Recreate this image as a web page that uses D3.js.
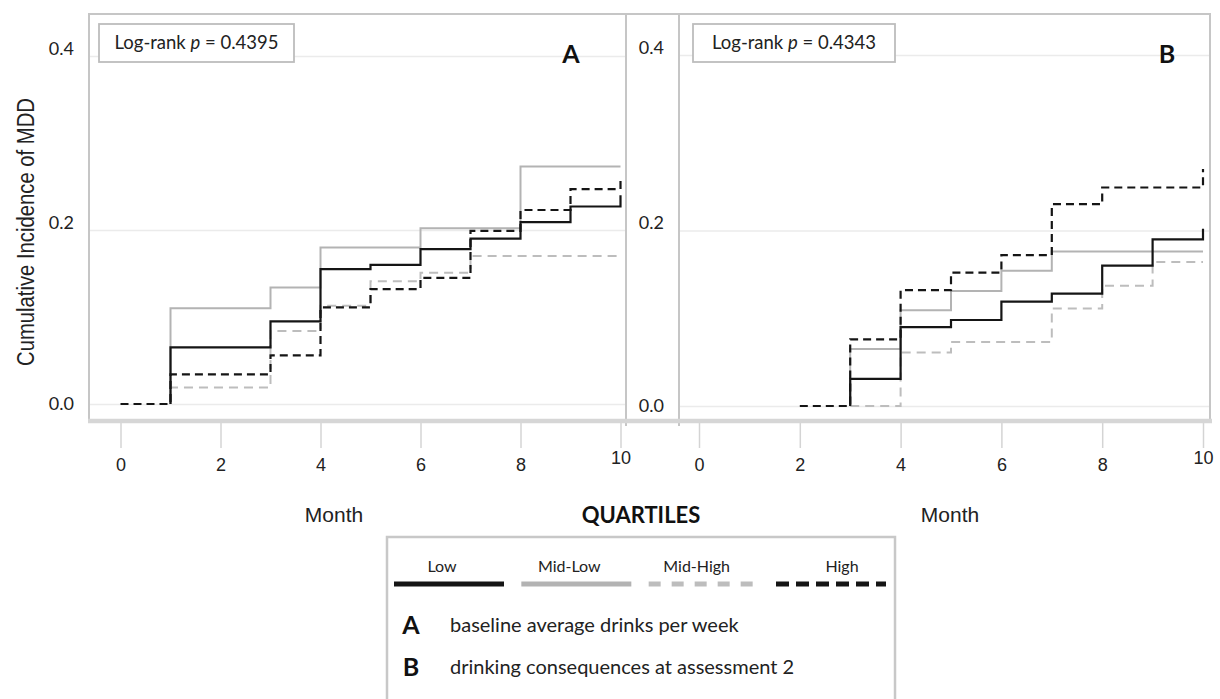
<!DOCTYPE html>
<html><head><meta charset="utf-8">
<script src="https://cdn.jsdelivr.net/npm/d3@7"></script>
<style>body{margin:0;background:#fff} svg{display:block}</style>
</head><body>
<svg id="chart" width="1220" height="699"></svg>
<script>
// ---------- data ----------
const quartiles = ["Low", "Mid-Low", "Mid-High", "High"];
const monthTicks = [0, 2, 4, 6, 8, 10];
const yTicks = [0, 0.2, 0.4];
const pValues = ["0.4395", "0.4343"];
const panelLetters = ["A", "B"];
const panelDescriptions = ["baseline average drinks per week", "drinking consequences at assessment 2"];

// Panel A (baseline average drinks per week)
const lowA_month     = [1, 1, 3, 4, 5, 6, 7, 8, 9, 10];
const lowA_value     = [0, 0.065, 0.095, 0.155, 0.160, 0.178, 0.190, 0.209, 0.227, 0.240];
const midLowA_month  = [1, 1, 3, 4, 6, 8, 10];
const midLowA_value  = [0, 0.110, 0.134, 0.180, 0.202, 0.273, 0.273];
const midHighA_month = [1, 1, 3, 4, 5, 6, 7, 10];
const midHighA_value = [0, 0.019, 0.084, 0.113, 0.141, 0.151, 0.170, 0.170];
const highA_month    = [0, 1, 3, 4, 5, 6, 7, 8, 9, 10];
const highA_value    = [0, 0.034, 0.056, 0.111, 0.132, 0.145, 0.199, 0.223, 0.247, 0.262];

// Panel B (drinking consequences at assessment 2)
const lowB_month     = [3, 3, 4, 5, 6, 7, 8, 9, 10];
const lowB_value     = [0, 0.031, 0.090, 0.098, 0.119, 0.128, 0.160, 0.190, 0.202];
const midLowB_month  = [3, 3, 4, 5, 6, 7, 10];
const midLowB_value  = [0, 0.065, 0.109, 0.131, 0.154, 0.176, 0.176];
const midHighB_month = [3, 4, 5, 7, 8, 9, 10];
const midHighB_value = [0, 0.061, 0.073, 0.111, 0.137, 0.164, 0.164];
const highB_month    = [2, 3, 4, 5, 6, 7, 8, 10];
const highB_value    = [0, 0.076, 0.132, 0.152, 0.172, 0.230, 0.249, 0.270];

// ---------- styles ----------
const styles = {
  "Low":      {color: "#151515", width: 2.2, dash: null},
  "Mid-Low":  {color: "#b3b3b3", width: 2,   dash: null},
  "Mid-High": {color: "#bdbdbd", width: 2,   dash: "9,6"},
  "High":     {color: "#151515", width: 2.2, dash: "8,5"}
};
const CAL = "Lato, 'Open Sans', sans-serif";
const NARROW = "'Liberation Sans Narrow', 'Liberation Sans', Arial, sans-serif";
const FRAME = "#c6c6c6";

const svg = d3.select("#chart");

function zip(ms, vs) { return ms.map((m, i) => ({m, v: vs[i]})); }

const panels = [
  {letter: "A", p: pValues[0], frameL: 89, frameR: 626, xr: [120.5, 620.5], yr: [404, 56],
   box: [99, 24, 195, 38], letterX: 571, monthX: 334,
   series: {"Low": zip(lowA_month, lowA_value), "Mid-Low": zip(midLowA_month, midLowA_value),
            "Mid-High": zip(midHighA_month, midHighA_value), "High": zip(highA_month, highA_value)}},
  {letter: "B", p: pValues[1], frameL: 679, frameR: 1210, xr: [699, 1203], yr: [406, 55],
   box: [693, 24, 202, 38], letterX: 1167, monthX: 950,
   series: {"Low": zip(lowB_month, lowB_value), "Mid-Low": zip(midLowB_month, midLowB_value),
            "Mid-High": zip(midHighB_month, midHighB_value), "High": zip(highB_month, highB_value)}}
];

const topY = 14, bottomY = 421;

panels.forEach(P => {
  const x = d3.scaleLinear().domain([0, 10]).range(P.xr);
  const y = d3.scaleLinear().domain([0, 0.4]).range(P.yr);
  const g = svg.append("g");

  // gridlines
  g.append("g").attr("transform", `translate(${P.frameL},0)`)
    .call(d3.axisRight(y).tickValues(yTicks).tickSize(P.frameR - P.frameL).tickFormat(""))
    .call(a => a.select(".domain").remove())
    .call(a => a.selectAll("line").attr("stroke", "#ebebeb").attr("stroke-width", 1.5));

  // y tick labels
  g.append("g").attr("transform", `translate(${P.frameL},0)`)
    .call(d3.axisLeft(y).tickValues(yTicks).tickSize(0).tickPadding(15).tickFormat(d3.format(".1f")))
    .call(a => a.select(".domain").remove())
    .call(a => a.selectAll("text").attr("font-family", CAL).attr("font-size", 18).attr("fill", "#222")
      .attr("dy", d => d === 0 ? "0.32em" : "-0.1em"));

  // x axis ticks + labels
  g.append("g").attr("transform", `translate(0,${bottomY})`)
    .call(d3.axisBottom(x).tickValues(monthTicks).tickSize(27).tickPadding(10).tickFormat(d3.format("d")))
    .call(a => a.select(".domain").remove())
    .call(a => a.selectAll("line").attr("stroke", "#d4d4d4").attr("stroke-width", 1.5))
    .call(a => a.selectAll("text").attr("font-family", NARROW).attr("font-size", 18).attr("fill", "#222")
      .attr("transform", d => d === 10 ? "translate(0,-7)" : null));

  // curves
  const line = d3.line().x(d => x(d.m)).y(d => y(d.v)).curve(d3.curveStepAfter);
  ["Mid-Low", "Mid-High", "Low", "High"].forEach(q => {
    const s = styles[q];
    g.append("path").datum(P.series[q]).attr("d", line)
      .attr("fill", "none").attr("stroke", s.color).attr("stroke-width", s.width)
      .attr("stroke-dasharray", s.dash);
  });

  // log-rank box
  const [bx, by, bw, bh] = P.box;
  g.append("rect").attr("x", bx).attr("y", by).attr("width", bw).attr("height", bh)
    .attr("fill", "#fff").attr("stroke", "#bdbdbd").attr("stroke-width", 1.8);
  const t = g.append("text").attr("x", bx + bw / 2).attr("y", by + bh / 2).attr("dy", "0.35em")
    .attr("text-anchor", "middle").attr("font-family", CAL).attr("font-size", 18.5).attr("fill", "#222");
  t.append("tspan").text("Log-rank ");
  t.append("tspan").attr("font-style", "italic").text("p");
  t.append("tspan").text(" = " + P.p);

  // panel letter
  g.append("text").attr("x", P.letterX).attr("y", 54).attr("dy", "0.35em").attr("text-anchor", "middle")
    .attr("font-family", CAL).attr("font-weight", "bold").attr("font-size", 25).attr("fill", "#111")
    .text(P.letter);

  // Month label
  g.append("text").attr("x", P.monthX).attr("y", 515).attr("dy", "0.35em").attr("text-anchor", "middle")
    .attr("font-family", NARROW).attr("font-size", 21).attr("fill", "#222").text("Month");
});

// frame
const fr = svg.append("g").attr("stroke", FRAME).attr("stroke-width", 2).attr("fill", "none");
fr.append("line").attr("x1", 88).attr("x2", 1211).attr("y1", topY).attr("y2", topY);
fr.append("line").attr("x1", 89).attr("x2", 89).attr("y1", topY).attr("y2", bottomY);
fr.append("line").attr("x1", 626).attr("x2", 626).attr("y1", topY).attr("y2", 426);
fr.append("line").attr("x1", 679).attr("x2", 679).attr("y1", topY).attr("y2", 426);
fr.append("line").attr("x1", 1210).attr("x2", 1210).attr("y1", topY).attr("y2", bottomY);
svg.append("line").attr("x1", 88).attr("x2", 1212).attr("y1", bottomY).attr("y2", bottomY)
  .attr("stroke", "#d6d6d6").attr("stroke-width", 4.5);

// y axis title
svg.append("text").attr("transform", "translate(26,232) rotate(-90)").attr("dy", "0.35em")
  .attr("text-anchor", "middle").attr("font-family", NARROW).attr("font-size", 23)
  .attr("textLength", 268).attr("lengthAdjust", "spacingAndGlyphs").attr("fill", "#222")
  .text("Cumulative  Incidence of MDD");

// ---------- legend ----------
svg.append("text").attr("x", 641).attr("y", 515).attr("dy", "0.35em").attr("text-anchor", "middle")
  .attr("font-family", CAL).attr("font-weight", "bold").attr("font-size", 22).attr("fill", "#111")
  .text("QUARTILES");

const lg = svg.append("g");
lg.append("rect").attr("x", 387).attr("y", 537).attr("width", 508).attr("height", 180)
  .attr("fill", "#fff").attr("stroke", "#c8c8c8").attr("stroke-width", 2.5);

const legendPos = d3.scalePoint().domain(quartiles).range([449, 831]);
const segHalf = 55;
quartiles.forEach((q, i) => {
  const cx = legendPos(q);
  const s = styles[q];
  lg.append("line").attr("x1", cx - segHalf).attr("x2", cx + segHalf).attr("y1", 584).attr("y2", 584)
    .attr("stroke", s.color).attr("stroke-width", 5)
    .attr("stroke-dasharray", q === "Mid-High" ? "12,11" : (q === "High" ? "13,7" : null));
  lg.append("text").attr("x", cx + (i === 3 ? 11 : -7)).attr("y", 566).attr("dy", "0.35em")
    .attr("text-anchor", "middle").attr("font-family", CAL).attr("font-size", 16).attr("fill", "#222").text(q);
});

panelLetters.forEach((L, i) => {
  const yy = 625 + i * 42;
  lg.append("text").attr("x", 411).attr("y", yy).attr("dy", "0.35em").attr("text-anchor", "middle")
    .attr("font-family", CAL).attr("font-weight", "bold").attr("font-size", 25).attr("fill", "#111").text(L);
  lg.append("text").attr("x", 450).attr("y", yy).attr("dy", "0.35em")
    .attr("font-family", CAL).attr("font-size", 20).attr("fill", "#222").text(panelDescriptions[i]);
});
</script>
</body></html>
